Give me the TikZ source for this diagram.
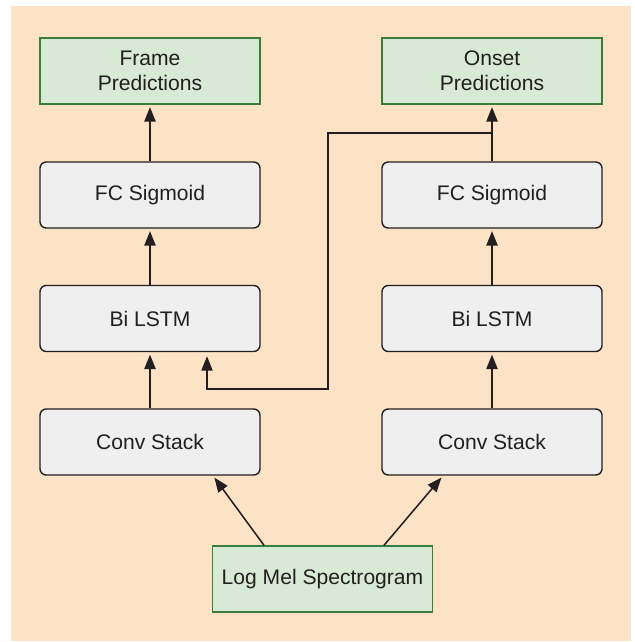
\documentclass[tikz,border=0pt]{standalone}
\usepackage{fontspec}
\setmainfont{Liberation Sans}
\usepackage{tikz}
\usetikzlibrary{arrows.meta, positioning, calc}
\definecolor{peachbg}{RGB}{253,227,197}
\definecolor{predfill}{RGB}{216,233,213}
\definecolor{predline}{RGB}{58,125,58}
\definecolor{layerfill}{RGB}{238,239,238}
\definecolor{inkdark}{RGB}{35,31,32}

\begin{document}
\begin{tikzpicture}[x=0.025cm,y=-0.025cm,
    predbox/.style={rectangle,draw=predline,fill=predfill,line width=1pt,minimum width=5.5cm,minimum height=1.65cm,inner sep=2pt,align=center,text=inkdark,font=\fontsize{15}{17.7}\selectfont},
    layerbox/.style={rectangle,draw=inkdark,fill=layerfill,line width=1pt,minimum width=5.5cm,minimum height=1.65cm,rounded corners=4.5pt,align=center,text=inkdark,font=\fontsize{15}{17.7}\selectfont},
    flow/.style={-{Triangle[length=0.36cm,width=0.28cm]},draw=inkdark,line width=1.1pt,shorten >=0.06cm}]
    % Hintergrund
    \useasboundingbox (0,0) rectangle (635,642);
    \fill[peachbg] (11,6) rectangle (631,641);

    % Vorhersagen
    \node[predbox] (framepred) at (150,71) {Frame\\Predictions};
    \node[predbox] (onsetpred) at (492,71) {Onset\\Predictions};

    % Schichten links
    \node[layerbox] (fcL) at (150,195) {FC Sigmoid};
    \node[layerbox] (lstmL) at (150,318.5) {Bi LSTM};
    \node[layerbox] (convL) at (150,442) {Conv Stack};

    % Schichten rechts
    \node[layerbox] (fcR) at (492,195) {FC Sigmoid};
    \node[layerbox] (lstmR) at (492,318.5) {Bi LSTM};
    \node[layerbox] (convR) at (492,442) {Conv Stack};

    % Eingabe
    \node[predbox] (logmel) at (322.5,579) {Log Mel Spectrogram};

    % Pfeile
    \draw[flow] (convL) -- (lstmL);
    \draw[flow] (lstmL) -- (fcL);
    \draw[flow] (fcL) -- (framepred);
    \draw[flow] (convR) -- (lstmR);
    \draw[flow] (lstmR) -- (fcR);
    \draw[flow] (fcR) -- (onsetpred);
    \draw[flow] ($(logmel.north)+(-58.5,0)$) -- ($(convL.south)+(63,0)$);
    \draw[flow] ($(logmel.north)+(61.5,0)$) -- ($(convR.south)+(-49,0)$);

    % Rueckfuehrung
    \coordinate (split) at ($(fcR.north)!0.5!(onsetpred.south)$);
    \draw[flow,line width=0.95pt,shorten >=0.1cm] (split) -| (328,389) -| ($(lstmL.south)+(57,0)$);
\end{tikzpicture}
\end{document}
